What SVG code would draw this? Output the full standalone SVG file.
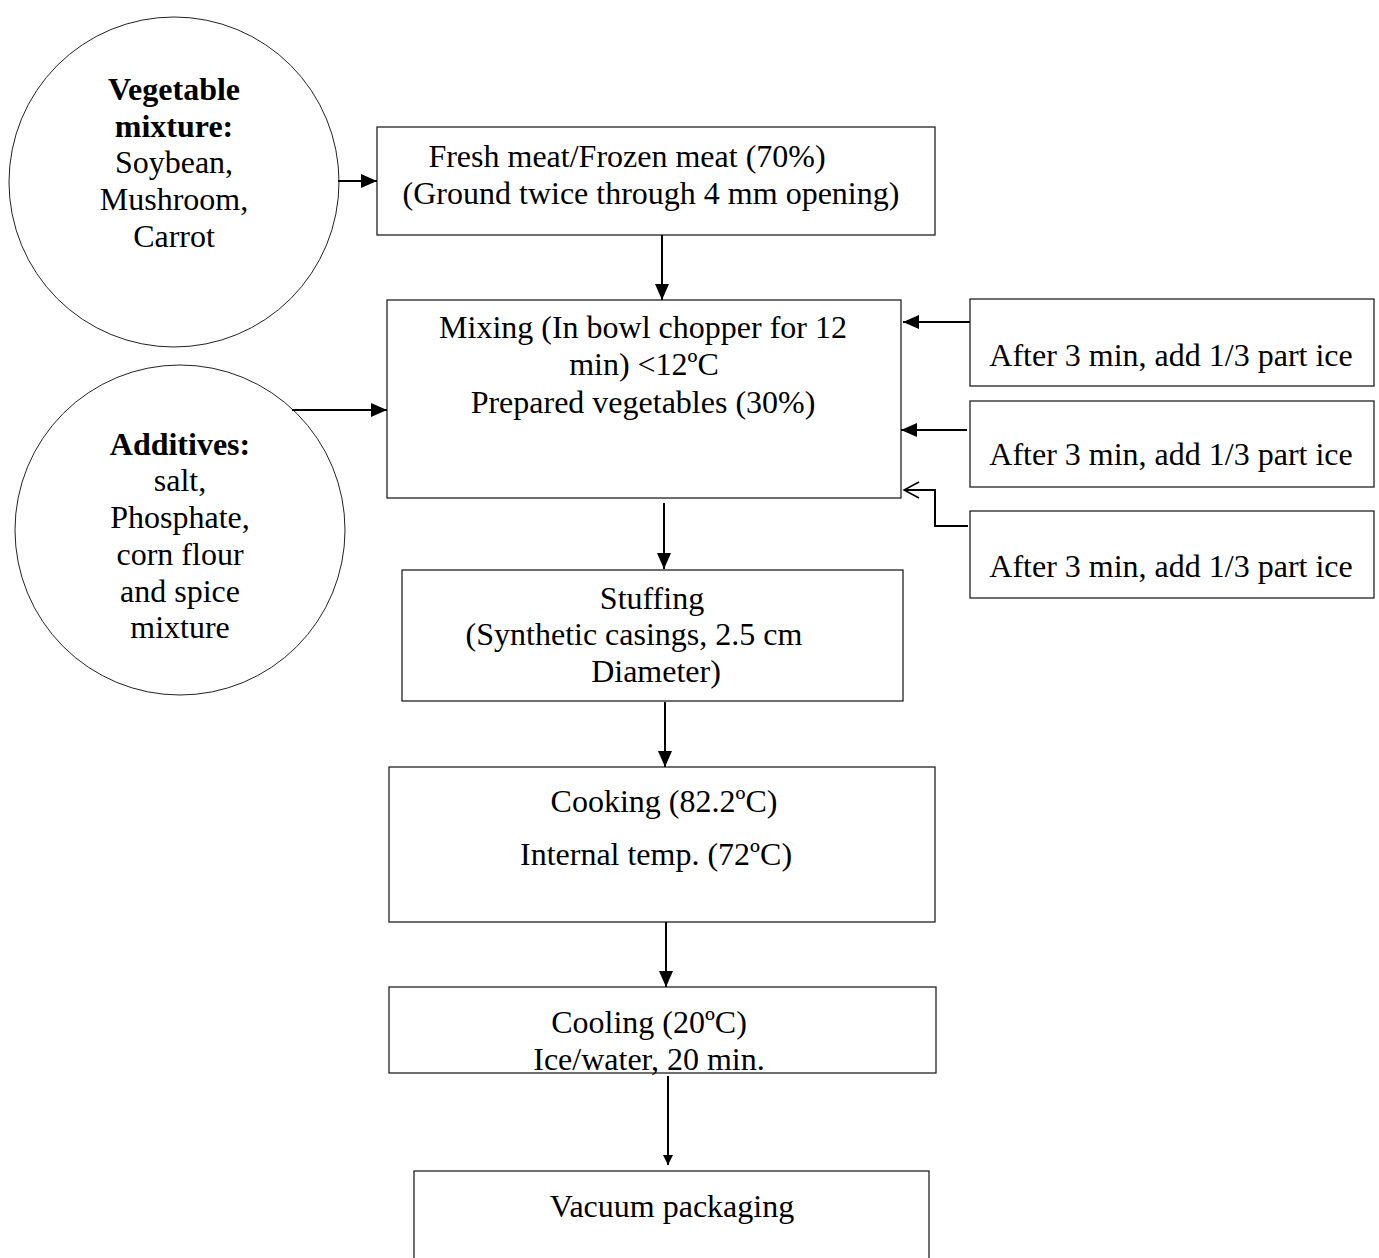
<svg xmlns="http://www.w3.org/2000/svg" width="1379" height="1258" viewBox="0 0 1379 1258">
<style>
.box{fill:#fff;stroke:#222;stroke-width:1.3}
.circ{fill:#fff;stroke:#222;stroke-width:1}
.t{font-family:"Liberation Serif","Times New Roman",serif;font-size:32px;fill:#000;text-anchor:middle}
.b{font-weight:bold}
.c{fill:none;stroke:#000;stroke-width:2}
</style>
<defs>
<marker id="ah" markerUnits="userSpaceOnUse" markerWidth="18" markerHeight="16" refX="16" refY="8" orient="auto"><path d="M0,1 L16,8 L0,15 z" fill="#000"/></marker>
<marker id="ahs" markerUnits="userSpaceOnUse" markerWidth="12" markerHeight="12" refX="10" refY="6" orient="auto"><path d="M0,1 L10,6 L0,11 z" fill="#000"/></marker>
<marker id="ao" markerUnits="userSpaceOnUse" markerWidth="18" markerHeight="18" refX="16" refY="9" orient="auto"><path d="M1,1 L16,9 L1,17" fill="none" stroke="#000" stroke-width="1.5"/></marker>
</defs>
<rect width="1379" height="1258" fill="#fff"/>
<g id="vegetable-mixture">
<circle class="circ" cx="174" cy="182" r="165"/>
<text class="t b" x="174" y="100">Vegetable</text>
<text class="t b" x="174" y="137">mixture:</text>
<text class="t" x="174" y="173">Soybean,</text>
<text class="t" x="174" y="210">Mushroom,</text>
<text class="t" x="174" y="247">Carrot</text>
</g>
<g id="additives">
<circle class="circ" cx="180" cy="530" r="165"/>
<text class="t b" x="180" y="455">Additives:</text>
<text class="t" x="180" y="491">salt,</text>
<text class="t" x="180" y="528">Phosphate,</text>
<text class="t" x="180" y="565">corn flour</text>
<text class="t" x="180" y="602">and spice</text>
<text class="t" x="180" y="638">mixture</text>
</g>
<g id="meat">
<rect class="box" x="377" y="127" width="558" height="108"/>
<text class="t" x="627" y="167">Fresh meat/Frozen meat (70%)</text>
<text class="t" x="651" y="204">(Ground twice through 4 mm opening)</text>
</g>
<g id="mixing">
<rect class="box" x="387" y="300" width="514" height="198"/>
<text class="t" x="643" y="338">Mixing (In bowl chopper for 12</text>
<text class="t" x="644" y="375">min) &lt;12ºC</text>
<text class="t" x="643" y="413">Prepared vegetables (30%)</text>
</g>
<g id="ice1">
<rect class="box" x="970" y="299" width="404" height="87"/>
<text class="t" x="1171" y="366">After 3 min, add 1/3 part ice</text>
</g>
<g id="ice2">
<rect class="box" x="970" y="401" width="404" height="86"/>
<text class="t" x="1171" y="465">After 3 min, add 1/3 part ice</text>
</g>
<g id="ice3">
<rect class="box" x="970" y="511" width="404" height="87"/>
<text class="t" x="1171" y="577">After 3 min, add 1/3 part ice</text>
</g>
<g id="stuffing">
<rect class="box" x="402" y="570" width="501" height="131"/>
<text class="t" x="652" y="609">Stuffing</text>
<text class="t" x="634" y="645">(Synthetic casings, 2.5 cm</text>
<text class="t" x="656" y="682">Diameter)</text>
</g>
<g id="cooking">
<rect class="box" x="389" y="767" width="546" height="155"/>
<text class="t" x="664" y="812">Cooking (82.2ºC)</text>
<text class="t" x="656" y="865">Internal temp. (72ºC)</text>
</g>
<g id="cooling">
<rect class="box" x="389" y="987" width="547" height="86"/>
<text class="t" x="649" y="1033">Cooling (20ºC)</text>
<text class="t" x="649" y="1070">Ice/water, 20 min.</text>
</g>
<g id="vacuum">
<rect class="box" x="414" y="1171" width="515" height="100"/>
<text class="t" x="672" y="1217">Vacuum packaging</text>
</g>
<g id="connectors">
<line class="c" x1="338" y1="181" x2="377" y2="181" marker-end="url(#ah)"/>
<line class="c" x1="292" y1="410" x2="387" y2="410" marker-end="url(#ah)"/>
<line class="c" x1="662" y1="235" x2="662" y2="300" marker-end="url(#ah)"/>
<line class="c" x1="970" y1="322" x2="903" y2="322" marker-end="url(#ah)"/>
<line class="c" x1="967" y1="430" x2="901" y2="430" marker-end="url(#ah)"/>
<polyline class="c" points="968,526 935,526 935,490 904,490" marker-end="url(#ao)"/>
<line class="c" x1="664" y1="503" x2="664" y2="569" marker-end="url(#ah)"/>
<line class="c" x1="665" y1="702" x2="665" y2="767" marker-end="url(#ah)"/>
<line class="c" x1="666" y1="922" x2="666" y2="987" marker-end="url(#ah)"/>
<line class="c" x1="668" y1="1076" x2="668" y2="1165" marker-end="url(#ahs)"/>
</g>
</svg>
